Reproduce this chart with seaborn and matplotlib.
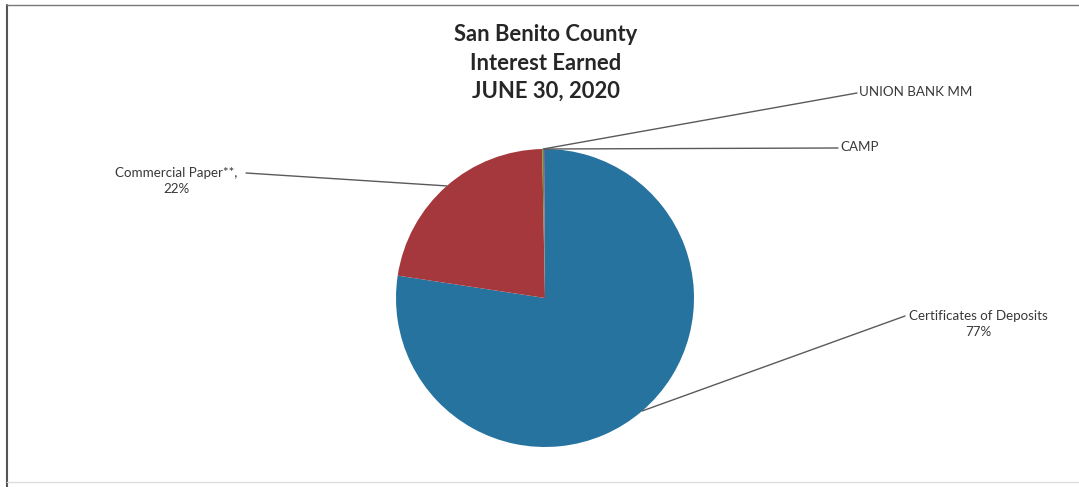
import numpy as np
import matplotlib
matplotlib.use("Agg")
import matplotlib.pyplot as plt
import seaborn as sns

# --- data ---
labels = ["Certificates of Deposits", "Commercial Paper**", "UNION BANK MM", "CAMP"]
shares = [77.4, 22.3, 0.2, 0.1]
pct_text = ["77%", "22%", "", ""]
colors = ["#2673A0", "#A5383C", "#6E8B3D", "#6B4C9A"]

title_lines = ["San Benito County", "Interest Earned", "JUNE 30, 2020"]

sns.set_theme(style="white")
plt.rcParams["font.family"] = ["Lato", "DejaVu Sans"]

W, H = 1079, 487
fig = plt.figure(figsize=(W / 100, H / 100), dpi=100)
ax = fig.add_axes([0, 0, 1, 1])


def py(y):
    # pixel row (from top) -> axis y
    return H - y


cx, cy, r = 545, py(298), 149
wedges, _ = ax.pie(shares, colors=colors, startangle=90, counterclock=False,
                   center=(cx, cy), radius=r, frame=True,
                   wedgeprops=dict(linewidth=0))
ax.set_xlim(0, W)
ax.set_ylim(0, H)
ax.set_aspect("equal")
ax.axis("off")

# label anchors (where each leader line ends) and text placement
anchors = [(905, 316), (246, 173), (857, 93), (838, 148)]
text_pos = [(978, 324, "center"), (176, 181, "center"), (859, 92, "left"), (840, 147, "left")]

for w, lab, pct, (ax_, ay), (tx, ty, ha) in zip(wedges, labels, pct_text, anchors, text_pos):
    mid = np.deg2rad((w.theta1 + w.theta2) / 2)
    ex, ey = cx + r * np.cos(mid), cy + r * np.sin(mid)
    ax.plot([ex, ax_], [ey, py(ay)], color="#5a5a5a", lw=1.0)
    if lab == "Commercial Paper**":
        txt = lab + ",\n" + pct
    elif pct:
        txt = lab + "\n" + pct
    else:
        txt = lab
    ax.text(tx, py(ty), txt, ha=ha, va="center", multialignment="center",
            fontsize=9.6, color="#383838", linespacing=1.45)

ax.text(546, py(63), "\n".join(title_lines), ha="center", va="center",
        fontsize=15.8, fontweight="bold", color="#262626", linespacing=1.45)

# chart frame
fig.add_artist(plt.Line2D([7 / W, 7 / W], [0, 1 - 5 / H], color="#555555", lw=1.5))
fig.add_artist(plt.Line2D([7 / W, 1], [1 - 5 / H, 1 - 5 / H], color="#777777", lw=1.0))
fig.add_artist(plt.Line2D([7 / W, 1], [1 - 482 / H, 1 - 482 / H], color="#dddddd", lw=1.0))

fig.savefig("out.png", dpi=100)
